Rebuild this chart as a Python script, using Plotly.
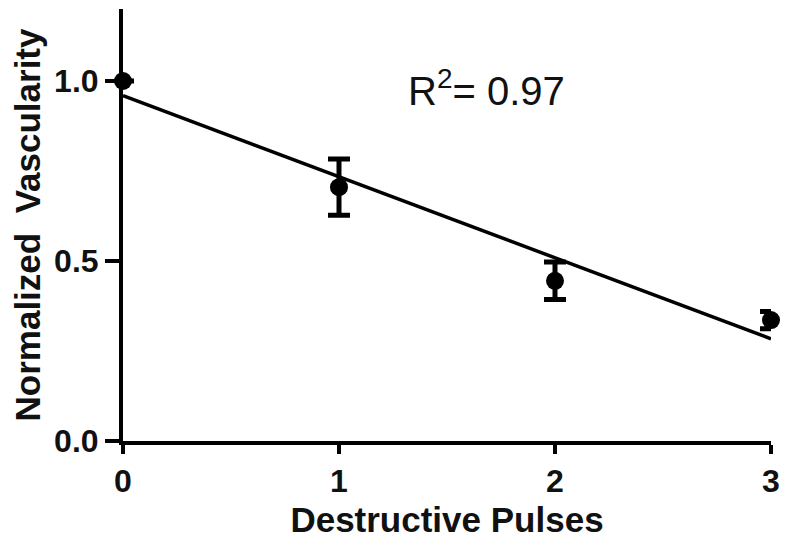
import numpy as np
import plotly.graph_objects as go

pulses = [0, 1, 2, 3]
vascularity = [1.0, 0.705, 0.445, 0.336]
sem = [0.0, 0.078, 0.052, 0.024]
x_ticks = [0, 1, 2, 3]
y_ticks = [0.0, 0.5, 1.0]
r2_text = "R<sup>2</sup>= 0.97"

slope, intercept = np.polyfit(pulses, vascularity, 1)
fit_x = [pulses[0], pulses[-1]]
fit_y = [intercept + slope * v for v in fit_x]

fig = go.Figure()
fig.add_trace(go.Scatter(
    x=fit_x, y=fit_y, mode="lines",
    line=dict(color="black", width=3.5),
    showlegend=False, cliponaxis=False, hoverinfo="skip"))
fig.add_trace(go.Scatter(
    x=pulses, y=vascularity, mode="markers",
    marker=dict(color="black", size=18, symbol="circle"),
    error_y=dict(type="data", array=sem, visible=True, color="black",
                 thickness=5, width=11),
    showlegend=False, cliponaxis=False))

font_fam = "Liberation Sans, Arial, sans-serif"
fig.update_layout(
    width=800, height=545,
    margin=dict(l=115, r=37, t=1, b=112),
    paper_bgcolor="white", plot_bgcolor="white",
    font=dict(family=font_fam, color="#111111"),
    xaxis=dict(range=[0, 3], tickvals=x_ticks, ticktext=[str(v) for v in x_ticks],
               showline=True, linecolor="black", linewidth=4,
               ticks="outside", ticklen=9, tickwidth=4, tickcolor="black",
               showgrid=False, zeroline=False,
               tickfont=dict(size=32, family=font_fam, weight="bold"),
               title=dict(text="Destructive Pulses", standoff=10,
                          font=dict(size=35, family=font_fam, weight="bold"))),
    yaxis=dict(range=[0, 1.2], tickvals=y_ticks, ticktext=[f"{v:.1f}" for v in y_ticks],
               showline=True, linecolor="black", linewidth=4,
               ticks="outside", ticklen=14, tickwidth=4, tickcolor="black",
               showgrid=False, zeroline=False,
               tickfont=dict(size=32, family=font_fam, weight="bold"),
               title=dict(text="Normalized  Vascularity", standoff=9,
                          font=dict(size=35, family=font_fam, weight="bold"))),
    annotations=[dict(x=1.685, y=0.98, xref="x", yref="y", text=r2_text,
                      xanchor="center", yanchor="middle",
                      showarrow=False, font=dict(size=40, family=font_fam, color="#111111"))],
)

fig.write_html("out.html")
